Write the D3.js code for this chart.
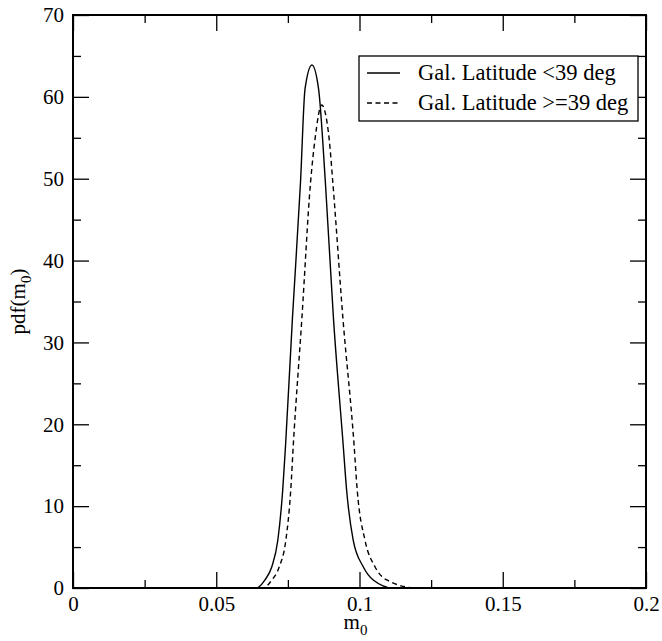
<!DOCTYPE html>
<html>
<head>
<meta charset="utf-8">
<script src="https://cdn.jsdelivr.net/npm/d3@7"></script>
<style>
  body { margin: 0; background: #fff; }
  svg text { font-family: "Liberation Serif", "Times New Roman", Times, "DejaVu Serif", serif !important; fill: #000; }
</style>
</head>
<body>
<div id="chart"></div>
<script>
// Data
const xLow = [0, 0.060, 0.0641, 0.0670, 0.0694, 0.0715, 0.0732, 0.0742, 0.0766, 0.0794, 0.0810, 0.0834, 0.0857, 0.0881, 0.0909, 0.0943, 0.0955, 0.0978, 0.1013, 0.1048, 0.1118, 0.120, 0.2];
const yLow = [0, 0, 0, 0.98, 2.6, 5.86, 11.97, 17.5, 33, 49.5, 61.0, 63.9, 61.0, 49.5, 33, 17.5, 11.97, 5.86, 2.6, 0.98, 0, 0, 0];

const xHigh = [0, 0.062, 0.0663, 0.0694, 0.0720, 0.0743, 0.0760, 0.0769, 0.0799, 0.0829, 0.0845, 0.0868, 0.0894, 0.0907, 0.0942, 0.0981, 0.0992, 0.1019, 0.1054, 0.1095, 0.1200, 0.125, 0.2];
const yHigh = [0, 0, 0, 0.98, 2.6, 5.86, 11.97, 17.5, 33, 49.5, 54.9, 59.0, 54.9, 49.5, 33, 17.5, 11.97, 5.86, 2.6, 0.98, 0, 0, 0];

const seriesNames = ["Gal. Latitude <39 deg", "Gal. Latitude >=39 deg"];
const xTicks = [0, 0.05, 0.1, 0.15, 0.2];
const xMinor = [0.025, 0.075, 0.125, 0.175];
const yTicks = [0, 10, 20, 30, 40, 50, 60, 70];
const yMinor = [5, 15, 25, 35, 45, 55, 65];

const svgWidth = 662;
const svgHeight = 641;
const margin = { top: 15, right: 16, bottom: 53, left: 73 };
const width = svgWidth - margin.left - margin.right;
const height = svgHeight - margin.top - margin.bottom;
const serif = '"Liberation Serif", "Times New Roman", Times, "DejaVu Serif", serif';

const svg = d3.select("#chart")
  .append("svg")
  .attr("width", svgWidth)
  .attr("height", svgHeight)
  .attr("font-family", serif);

const chartGroup = svg.append("g")
  .attr("transform", `translate(${margin.left}, ${margin.top})`);

const xScale = d3.scaleLinear().domain([0, 0.2]).range([0, width]);
const yScale = d3.scaleLinear().domain([0, 70]).range([height, 0]);

const fmtX = d => d === 0 ? "0" : String(d);

// curves
const line = d3.line()
  .x(d => xScale(d[0]))
  .y(d => yScale(d[1]))
  .curve(d3.curveMonotoneX);

chartGroup.append("path")
  .datum(d3.zip(xLow, yLow))
  .attr("d", line)
  .attr("fill", "none")
  .attr("stroke", "#000")
  .attr("stroke-width", 1.4);

chartGroup.append("path")
  .datum(d3.zip(xHigh, yHigh))
  .attr("d", line)
  .attr("fill", "none")
  .attr("stroke", "#000")
  .attr("stroke-width", 1.4)
  .attr("stroke-dasharray", "5,3.5");

// axes: ticks inward on all four sides
function styleAxis(g) {
  g.attr("font-family", serif);
  g.select(".domain").remove();
  g.selectAll(".tick line").attr("stroke", "#000").attr("stroke-width", 1.3);
  g.selectAll("text").style("font-size", "21px").style("font-family", serif);
}

chartGroup.append("g")
  .attr("transform", `translate(0, ${height})`)
  .call(d3.axisBottom(xScale).tickValues(xTicks).tickSize(-16).tickPadding(8).tickFormat(fmtX))
  .call(styleAxis);
chartGroup.append("g")
  .attr("transform", `translate(0, ${height})`)
  .call(d3.axisBottom(xScale).tickValues(xMinor).tickSize(-8).tickFormat(""))
  .call(styleAxis);
chartGroup.append("g")
  .call(d3.axisTop(xScale).tickValues(xTicks).tickSize(-16).tickFormat(""))
  .call(styleAxis);
chartGroup.append("g")
  .call(d3.axisTop(xScale).tickValues(xMinor).tickSize(-8).tickFormat(""))
  .call(styleAxis);

chartGroup.append("g")
  .call(d3.axisLeft(yScale).tickValues(yTicks).tickSize(-16).tickPadding(9).tickFormat(d3.format("d")))
  .call(styleAxis);
chartGroup.append("g")
  .call(d3.axisLeft(yScale).tickValues(yMinor).tickSize(-8).tickFormat(""))
  .call(styleAxis);
chartGroup.append("g")
  .attr("transform", `translate(${width}, 0)`)
  .call(d3.axisRight(yScale).tickValues(yTicks).tickSize(-16).tickFormat(""))
  .call(styleAxis);
chartGroup.append("g")
  .attr("transform", `translate(${width}, 0)`)
  .call(d3.axisRight(yScale).tickValues(yMinor).tickSize(-8).tickFormat(""))
  .call(styleAxis);

// frame
chartGroup.append("rect")
  .attr("width", width)
  .attr("height", height)
  .attr("fill", "none")
  .attr("stroke", "#000")
  .attr("stroke-width", 2);

// axis titles
const xTitle = chartGroup.append("text")
  .attr("x", width / 2 - 4)
  .attr("y", height + 41)
  .attr("text-anchor", "middle")
  .style("font-size", "21px");
xTitle.append("tspan").text("m");
xTitle.append("tspan").attr("dy", 6).style("font-size", "15px").text("0");

const yTitle = chartGroup.append("text")
  .attr("transform", `translate(${25 - margin.left}, ${height / 2}) rotate(-90)`)
  .attr("text-anchor", "middle")
  .style("font-size", "21px");
yTitle.append("tspan").text("pdf(m");
yTitle.append("tspan").attr("dy", 6).style("font-size", "15px").text("0");
yTitle.append("tspan").attr("dy", -6).text(")");

// legend
const legend = svg.append("g").attr("transform", "translate(359, 56)");
legend.append("rect")
  .attr("width", 279)
  .attr("height", 65)
  .attr("fill", "#fff")
  .attr("stroke", "#000")
  .attr("stroke-width", 1.3);

const legendRows = legend.selectAll("g.row")
  .data(seriesNames)
  .join("g")
  .attr("class", "row")
  .attr("transform", (d, i) => `translate(0, ${17 + i * 30})`);

legendRows.append("line")
  .attr("x1", 8).attr("x2", 41)
  .attr("stroke", "#000")
  .attr("stroke-width", 1.4)
  .attr("stroke-dasharray", (d, i) => i === 1 ? "5,3.5" : null);

legendRows.append("text")
  .attr("x", 59)
  .attr("y", 7)
  .style("font-size", "22.5px")
  .text(d => d);
</script>
</body>
</html>
